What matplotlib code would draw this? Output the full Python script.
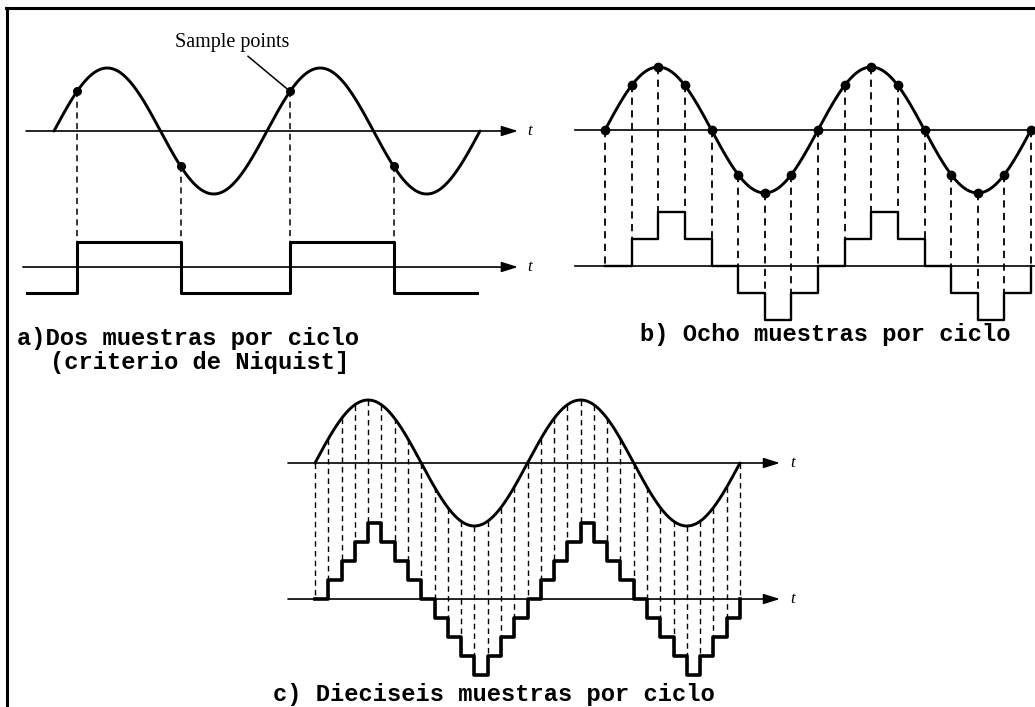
import numpy as np
import matplotlib
matplotlib.use("Agg")
import matplotlib.pyplot as plt
from matplotlib.lines import Line2D

# ---------------- data (time in cycles, amplitude in sine units) ----------------
# a) two samples per cycle
a_sample_t = [0.108, 0.595, 1.108, 1.595]
a_sample_v = [0.63, -0.56, 0.63, -0.56]
a_edges = [-0.127, 0.108, 0.595, 1.108, 1.595, 1.986]
a_levels = [-1, 1, -1, 1, -1, -1]

# b) eight samples per cycle
b_sample_t = [0.0, 0.125, 0.25, 0.375, 0.5, 0.625, 0.75, 0.875, 1.0,
              1.125, 1.25, 1.375, 1.5, 1.625, 1.75, 1.875, 2.0]
b_sample_v = [0, 0.71, 1, 0.71, 0, -0.71, -1, -0.71, 0,
              0.71, 1, 0.71, 0, -0.71, -1, -0.71, 0]
b_levels = [0, 1, 2, 1, 0, -1, -2, -1, 0, 1, 2, 1, 0, -1, -2, -1, 0]

# c) sixteen samples per cycle
c_sample_t = [0.0, 0.0625, 0.125, 0.1875, 0.25, 0.3125, 0.375, 0.4375, 0.5,
              0.5625, 0.625, 0.6875, 0.75, 0.8125, 0.875, 0.9375, 1.0,
              1.0625, 1.125, 1.1875, 1.25, 1.3125, 1.375, 1.4375, 1.5,
              1.5625, 1.625, 1.6875, 1.75, 1.8125, 1.875, 1.9375, 2.0]
c_sample_v = [0, 0.38, 0.71, 0.92, 1, 0.92, 0.71, 0.38, 0,
              -0.38, -0.71, -0.92, -1, -0.92, -0.71, -0.38, 0,
              0.38, 0.71, 0.92, 1, 0.92, 0.71, 0.38, 0,
              -0.38, -0.71, -0.92, -1, -0.92, -0.71, -0.38, 0]
c_levels = [0, 1, 2, 3, 4, 3, 2, 1, 0, -1, -2, -3, -4, -3, -2, -1, 0,
            1, 2, 3, 4, 3, 2, 1, 0, -1, -2, -3, -4, -3, -2, -1, 0]

captions = ["a)Dos muestras por ciclo", "(criterio de Niquist]",
            "b) Ocho muestras por ciclo", "c) Dieciseis muestras por ciclo"]
n_cycles = 2

# ---------------- layout ----------------
W, H = 1035, 707
fig = plt.figure(figsize=(W / 100, H / 100), dpi=100)
fig.patch.set_facecolor("white")

OFF = -2.159          # vertical offset of the lower (sampled) trace
DASH = (4, 3)


def panel_axes(x0, y0, P, A, box):
    l, t, r, b = box
    ax = fig.add_axes([l / W, 1 - b / H, (r - l) / W, (b - t) / H])
    ax.set_xlim((l - x0) / P, (r - x0) / P)
    ax.set_ylim((y0 - b) / A, (y0 - t) / A)
    ax.axis("off")
    return ax


def axis_arrow(ax, x_start, x_tip, y, arrow=True):
    if arrow:
        ax.annotate("", xy=(x_tip, y), xytext=(x_start, y),
                    arrowprops=dict(arrowstyle="-|>,head_length=0.7,head_width=0.22",
                                    lw=1.2, color="black", shrinkA=0, shrinkB=0,
                                    mutation_scale=14),
                    annotation_clip=False)
    else:
        ax.plot([x_start, x_tip], [y, y], color="black", lw=1.2, clip_on=False)


def sine(ax):
    t = np.linspace(0, n_cycles, 600)
    ax.plot(t, np.sin(2 * np.pi * t), color="black", lw=2.1, clip_on=False,
            solid_capstyle="round")


tfont = dict(family="Liberation Serif", style="italic", fontsize=12, va="center",
             ha="center")

# ---- panel a ----
axa = panel_axes(54, 131, 213, 63, (10, 20, 545, 380))
a_step = 0.405
axis_arrow(axa, -0.131, 2.178, 0)
axis_arrow(axa, -0.146, 2.178, OFF)
axa.text(2.235, 0, "t", **tfont)
axa.text(2.235, OFF, "t", **tfont)
sine(axa)
ya = [OFF + l * a_step for l in a_levels]
axa.step(a_edges, ya, where="post", color="black", lw=2.2, clip_on=False)
for k, (t, v) in enumerate(zip(a_sample_t, a_sample_v)):
    bottom = OFF + min(a_levels[k], a_levels[k + 1]) * a_step
    axa.plot([t, t], [v, bottom], color="black", lw=1.1, dashes=DASH, clip_on=False)
axa.plot(a_sample_t, a_sample_v, "o", color="black", ms=5.5, clip_on=False)
axa.annotate("Sample points", xy=(a_sample_t[2], a_sample_v[2]), xytext=(0.836, 1.397),
             ha="center", va="center", fontsize=14.5, family="Liberation Serif",
             arrowprops=dict(arrowstyle="-", lw=1.1, color="black", shrinkA=1, shrinkB=3),
             annotation_clip=False)

# ---- panel b ----
axb = panel_axes(605, 130, 213, 63, (560, 20, 1035, 380))
b_step = 0.43
axis_arrow(axb, -0.141, 2.019, 0, arrow=False)
axis_arrow(axb, -0.141, 2.019, OFF, arrow=False)
sine(axb)
yb = [OFF + l * b_step for l in b_levels]
axb.step(b_sample_t, yb, where="post", color="black", lw=1.7, clip_on=False)
prev = 0
for t, v, l in zip(b_sample_t, b_sample_v, b_levels):
    bottom = OFF + min(prev, l) * b_step
    axb.plot([t, t], [v, bottom], color="black", lw=1.3, dashes=DASH, clip_on=False)
    prev = l
axb.plot(b_sample_t, b_sample_v, "o", color="black", ms=6, clip_on=False)

# ---- panel c ----
axc = panel_axes(315, 463, 212.5, 63, (270, 380, 820, 707))
c_step = 0.30
axis_arrow(axc, -0.127, 2.188, 0)
axis_arrow(axc, -0.127, 2.188, OFF)
axc.text(2.249, 0, "t", **tfont)
axc.text(2.249, OFF, "t", **tfont)
sine(axc)
yc = [OFF + l * c_step for l in c_levels]
prev = 0
for t, v, l in zip(c_sample_t, c_sample_v, c_levels):
    bottom = OFF + min(prev, l) * c_step
    axc.plot([t, t], [v, bottom], color="black", lw=1.0, dashes=DASH, clip_on=False)
    prev = l
axc.step(c_sample_t, yc, where="post", color="black", lw=2.6, clip_on=False)

# ---- captions ----
cfont = dict(family="Liberation Mono", weight="bold", fontsize=17.1, va="center",
             ha="left", color="black")
fig.text(17 / W, 1 - 339 / H, captions[0], **cfont)
fig.text(50 / W, 1 - 362 / H, captions[1], **cfont)
fig.text(640 / W, 1 - 335 / H, captions[2], **cfont)
fig.text(273 / W, 1 - 695 / H, captions[3], **cfont)

# ---- frame (top and left edges) ----
fig.add_artist(Line2D([6 / W, 1], [1 - 8 / H, 1 - 8 / H], color="black", lw=2.2,
                      transform=fig.transFigure))
fig.add_artist(Line2D([7 / W, 7 / W], [0, 1 - 8 / H], color="black", lw=2.2,
                      transform=fig.transFigure))

fig.savefig("out.png", dpi=100, facecolor="white")
